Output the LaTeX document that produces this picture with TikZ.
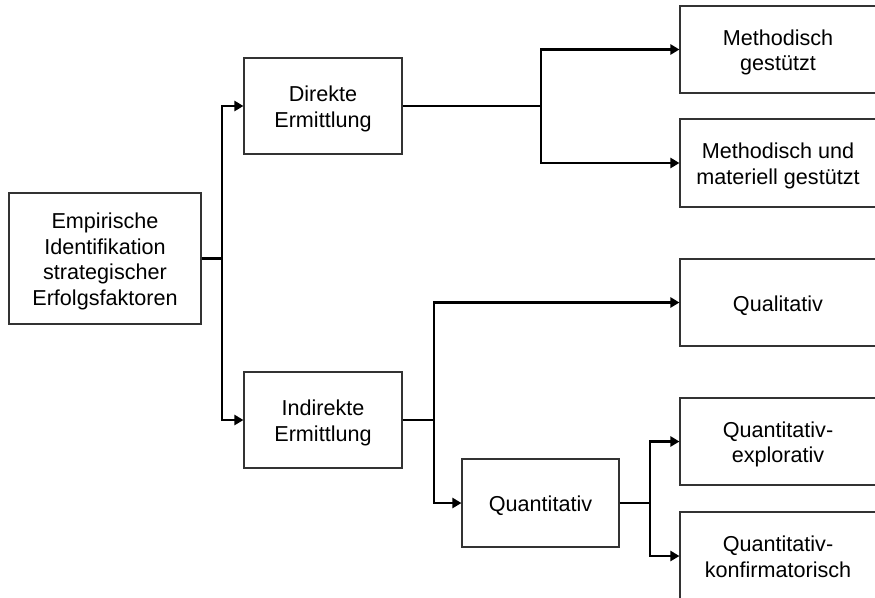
\documentclass[tikz,border=0pt]{standalone}
\usepackage{fontspec}
\setmainfont{Liberation Sans}
\usetikzlibrary{arrows.meta}
% box text: centred lines, ink set a little below the geometric centre
\newcommand\boxtext[1]{\raisebox{-3.5pt}[\height][\depth]{\begin{tabular}{@{}c@{}}#1\end{tabular}}}
\begin{document}
\begin{tikzpicture}[x=1pt,y=-1pt,
  box/.style={draw=black!80,line width=1.1pt,fill=white,inner sep=0pt,
    font=\fontsize{21.6}{25.5}\selectfont},
  link/.style={draw=black,line width=2.5pt,line join=miter},
  arr/.style={link,-{Triangle[length=9pt,width=10pt]}}]
\fill[white] (0,0) rectangle (875,597);
\clip (0,0) rectangle (875,597);
% boxes
\node[box,minimum width=192pt,minimum height=131pt] (emp) at (105,258.5)
  {\boxtext{Empirische\\Identifikation\\strategischer\\Erfolgsfaktoren}};
\node[box,minimum width=158pt,minimum height=96pt] (dir) at (323,106) {\boxtext{Direkte\\Ermittlung}};
\node[box,minimum width=158pt,minimum height=96pt] (ind) at (323,420) {\boxtext{Indirekte\\Ermittlung}};
\node[box,minimum width=196pt,minimum height=87pt] (meth) at (778,49.5) {\boxtext{Methodisch\\gestützt}};
\node[box,minimum width=196pt,minimum height=88pt] (methmat) at (778,163) {\boxtext{Methodisch und\\materiell gestützt}};
\node[box,minimum width=196pt,minimum height=87pt] (qual) at (778,302.5) {\boxtext{Qualitativ}};
\node[box,minimum width=157pt,minimum height=88pt] (quant) at (540.5,503) {\boxtext{Quantitativ}};
\node[box,minimum width=196pt,minimum height=87pt] (qexp) at (778,441.5) {\boxtext{Quantitativ-\\explorativ}};
\node[box,minimum width=196pt,minimum height=88pt] (qkon) at (778,556) {\boxtext{Quantitativ-\\konfirmatorisch}};
% branch points
\coordinate (j1) at (222,258.5);
\coordinate (j2) at (541,106);
\coordinate (j3) at (434,420);
\coordinate (j4) at (650,503);
% connectors
\draw[link] (emp.east) -- (j1);
\draw[arr] (j1) |- (dir.west);
\draw[arr] (j1) |- (ind.west);
\draw[link] (dir.east) -- (j2);
\draw[arr] (j2) |- (meth.west);
\draw[arr] (j2) |- (methmat.west);
\draw[link] (ind.east) -- (j3);
\draw[arr] (j3) |- (qual.west);
\draw[arr] (j3) |- (quant.west);
\draw[link] (quant.east) -- (j4);
\draw[arr] (j4) |- (qexp.west);
\draw[arr] (j4) |- (qkon.west);
\end{tikzpicture}
\end{document}
